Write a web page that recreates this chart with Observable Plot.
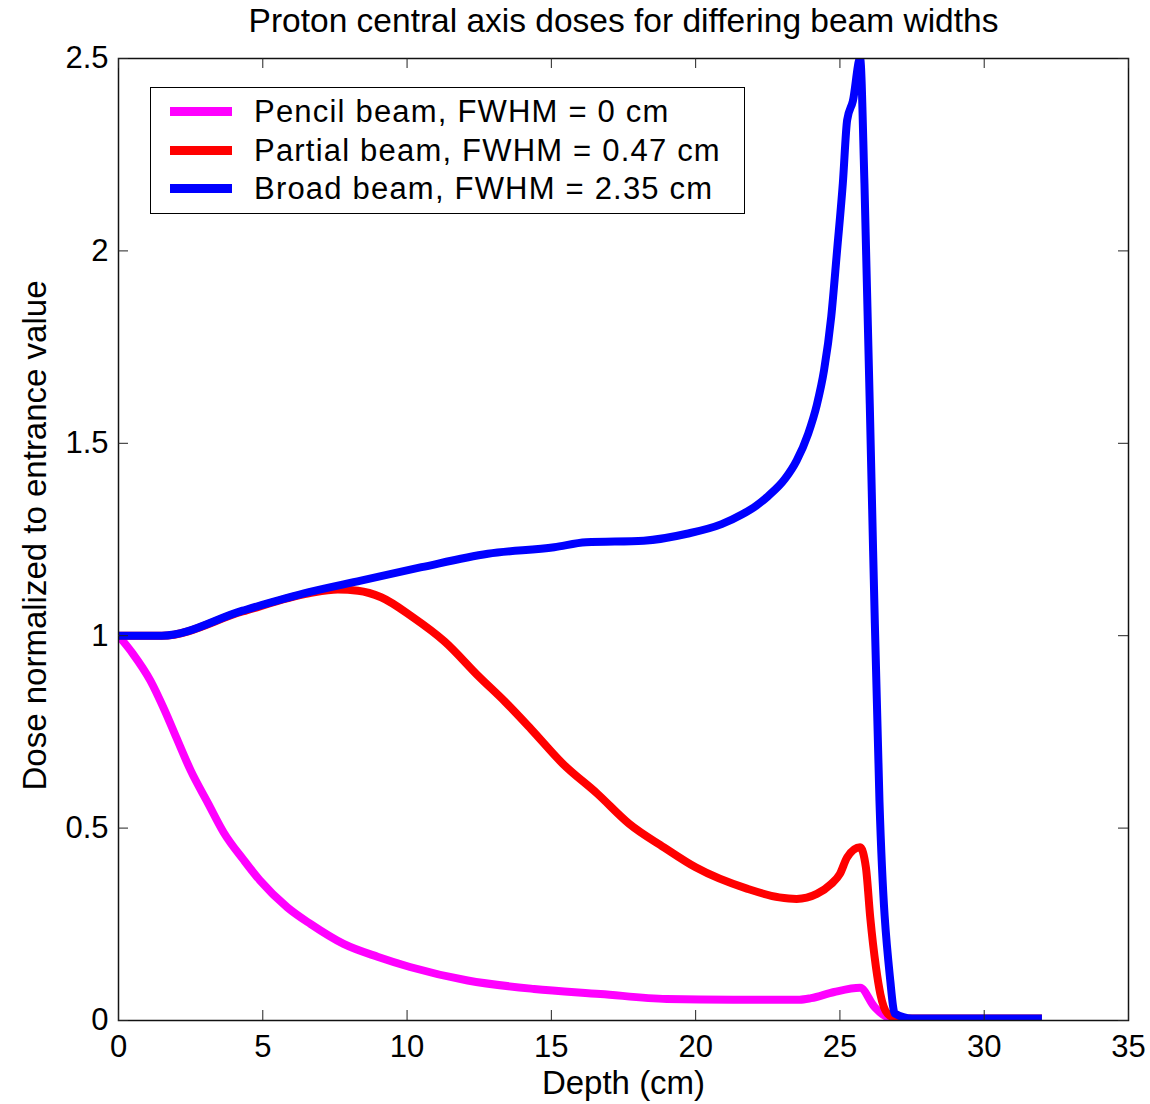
<!DOCTYPE html>
<html><head><meta charset="utf-8">
<script src="https://cdn.jsdelivr.net/npm/d3@7"></script>
<script src="https://cdn.jsdelivr.net/npm/@observablehq/plot@0.6"></script>
<style>
html,body{margin:0;padding:0;background:#fff;}
#wrap{position:relative;width:1150px;height:1104px;font-family:"Liberation Sans",Arial,sans-serif;}
#legend{position:absolute;left:150px;top:87px;width:593px;height:125px;border:1px solid #000;background:#fff;}
.swatch{position:absolute;left:19px;width:62px;height:9px;}
.lab{position:absolute;left:103px;font-size:31px;white-space:nowrap;letter-spacing:1.2px;line-height:1;color:#000;}
</style></head>
<body><div id="wrap"></div>
<script>
const titleText = "Proton central axis doses for differing beam widths";
const xLabel = "Depth (cm)";
const yLabel = "Dose normalized to entrance value";

const seriesNames = ["Pencil beam, FWHM = 0 cm", "Partial beam, FWHM = 0.47 cm", "Broad beam, FWHM = 2.35 cm"];
const seriesColors = ["#ff00ff", "#ff0000", "#0000ff"];

const pencilDepth = [0, 0.5, 1.1, 1.6, 2.0, 2.5, 3.1, 3.65, 4.35, 4.9, 5.85, 6.65, 7.8, 9.0, 10.1, 12.1, 14.4, 16.7, 19.0, 21.3, 23.6, 24.0, 24.8, 25.7, 26.2, 26.65, 27.5];
const pencilDose  = [1.0, 0.953, 0.884, 0.806, 0.736, 0.65, 0.565, 0.488, 0.416, 0.364, 0.294, 0.251, 0.199, 0.165, 0.139, 0.104, 0.082, 0.069, 0.056, 0.054, 0.054, 0.058, 0.074, 0.085, 0.035, 0.009, 0.003];

const partialDepth = [0, 1.5, 4.3, 6.6, 7.6, 8.3, 9.1, 10.2, 11.3, 12.5, 13.4, 14.3, 15.4, 16.6, 17.7, 18.9, 20.0, 21.8, 22.9, 23.5, 24.2, 24.7, 25.0, 25.25, 25.7, 25.9, 26.05, 26.25, 26.4, 26.65, 27.0, 32];
const partialDose  = [1.0, 1.0, 1.063, 1.11, 1.12, 1.117, 1.10, 1.048, 0.985, 0.893, 0.828, 0.757, 0.667, 0.589, 0.511, 0.45, 0.398, 0.342, 0.32, 0.316, 0.329, 0.355, 0.381, 0.424, 0.45, 0.398, 0.268, 0.138, 0.069, 0.018, 0.005, 0.005];

const broadDepth = [0, 1.5, 4.3, 6.6, 8.4, 10.5, 12.8, 15.1, 16.2, 18.2, 19.7, 20.9, 21.6, 22.1, 22.5, 23.1, 23.5, 23.9, 24.2, 24.45, 24.7, 24.9, 25.1, 25.25, 25.45, 25.7, 25.85, 26.15, 26.37, 26.75, 26.9, 27.5, 32];
const broadDose  = [1.0, 1.0, 1.065, 1.113, 1.143, 1.178, 1.213, 1.23, 1.243, 1.247, 1.265, 1.29, 1.315, 1.338, 1.362, 1.408, 1.455, 1.525, 1.6, 1.69, 1.83, 2.0, 2.175, 2.34, 2.39, 2.5, 2.175, 1.22, 0.57, 0.10, 0.018, 0.005, 0.005];

const xTicks = [0, 5, 10, 15, 20, 25, 30, 35];
const yTicks = [0, 0.5, 1, 1.5, 2, 2.5];

const depths = [pencilDepth, partialDepth, broadDepth];
const doses = [pencilDose, partialDose, broadDose];
const rows = [];
seriesNames.forEach((name, i) => depths[i].forEach((d, j) => rows.push({series: name, depth: d, dose: doses[i][j]})));

const W = 1150, H = 1104, mt = 58, mr = 22, mb = 84, ml = 118;
const innerW = W - ml - mr, innerH = H - mt - mb;
const tick = 10;
const font = "'Liberation Sans', Arial, sans-serif";

const chart = Plot.plot({
  width: W, height: H,
  marginTop: mt, marginRight: mr, marginBottom: mb, marginLeft: ml,
  style: {fontFamily: font, background: "#fff", color: "#000"},
  x: {domain: [0, 35]},
  y: {domain: [0, 2.5]},
  color: {domain: seriesNames, range: seriesColors},
  marks: [
    ...seriesNames.map(name => Plot.line(rows.filter(r => r.series === name), {
      x: "depth", y: "dose", stroke: "series", strokeWidth: 8, curve: "monotone-x",
      strokeLinejoin: "round", strokeLinecap: "butt", clip: true
    })),
    Plot.frame({stroke: "#111", strokeWidth: 1.5}),
    Plot.tickX(xTicks, {x: d => d, insetTop: innerH - tick, stroke: "#222"}),
    Plot.tickX(xTicks, {x: d => d, insetBottom: innerH - tick, stroke: "#222"}),
    Plot.tickY(yTicks, {y: d => d, insetRight: innerW - tick, stroke: "#222"}),
    Plot.tickY(yTicks, {y: d => d, insetLeft: innerW - tick, stroke: "#222"}),
    Plot.axisX(xTicks, {anchor: "bottom", tickSize: 0, tickPadding: 14, fontSize: 31, label: null, tickFormat: d => String(d)}),
    Plot.axisY(yTicks, {anchor: "left", tickSize: 0, tickPadding: 10, fontSize: 31, label: null, tickFormat: d => String(d)}),
    Plot.text([titleText], {text: d => d, frameAnchor: "top", dy: -37, fontSize: 33.5, lineAnchor: "middle", textAnchor: "middle", fill: "#000"}),
    Plot.text([xLabel], {text: d => d, frameAnchor: "bottom", dy: 63, fontSize: 33, lineAnchor: "middle", textAnchor: "middle", fill: "#000"}),
    Plot.text([yLabel], {text: d => d, frameAnchor: "left", dx: -83, dy: -4, rotate: -90, fontSize: 33, lineAnchor: "middle", textAnchor: "middle", fill: "#000"})
  ]
});

const wrap = document.getElementById("wrap");
wrap.appendChild(chart);

const legend = document.createElement("div");
legend.id = "legend";
const rowCenters = [23, 62, 100];
seriesNames.forEach((name, i) => {
  const sw = document.createElement("div");
  sw.className = "swatch";
  sw.style.top = (rowCenters[i] - 4.5) + "px";
  sw.style.background = seriesColors[i];
  legend.appendChild(sw);
  const lab = document.createElement("div");
  lab.className = "lab";
  lab.style.top = (rowCenters[i] - 15) + "px";
  lab.textContent = name;
  legend.appendChild(lab);
});
wrap.appendChild(legend);
</script></body></html>
